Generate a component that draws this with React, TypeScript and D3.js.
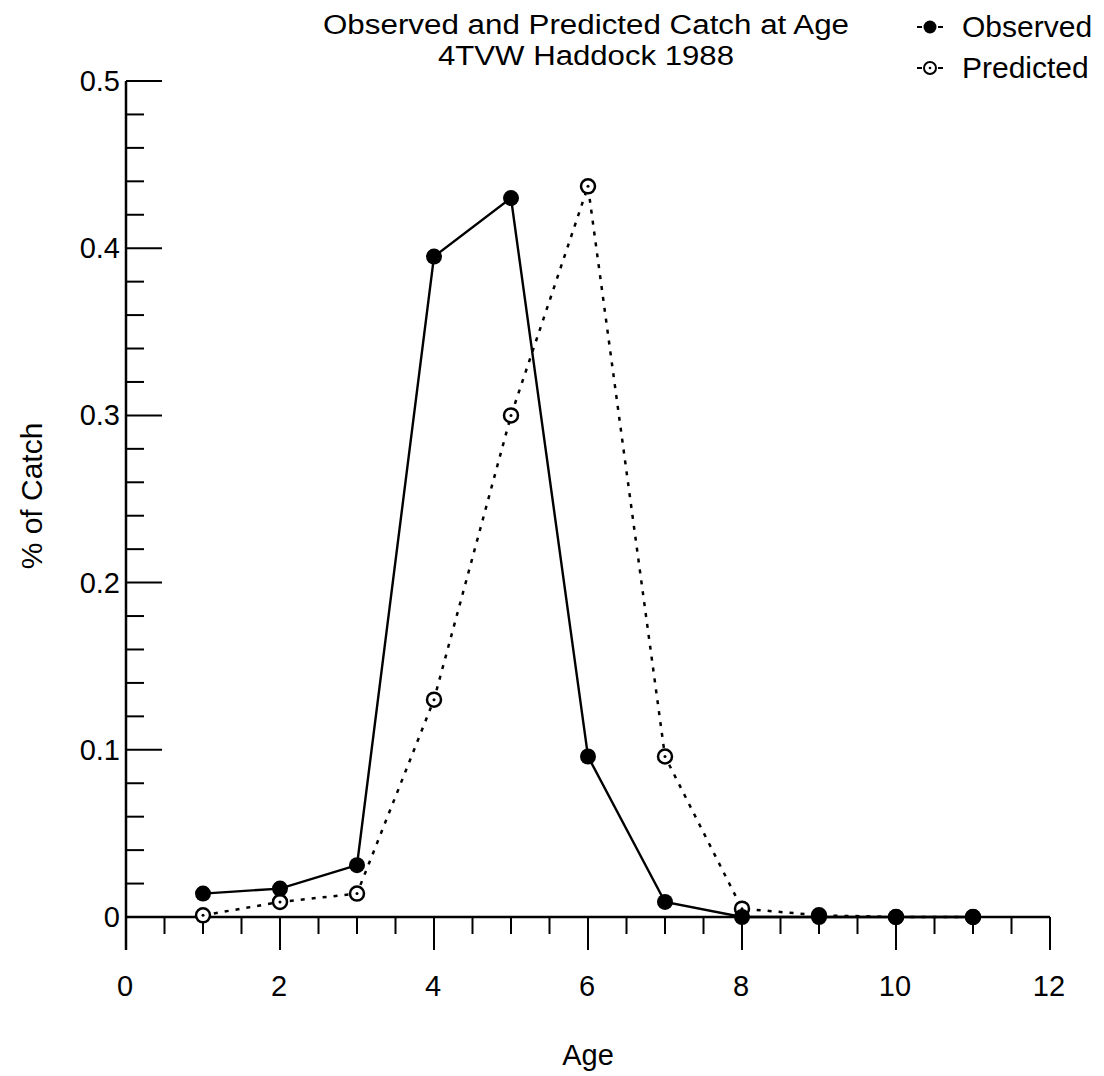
import { useEffect, useRef } from 'react';
import * as d3 from 'd3';

const ages = [1, 2, 3, 4, 5, 6, 7, 8, 9, 10, 11];
const observed = [0.014, 0.017, 0.031, 0.395, 0.43, 0.096, 0.009, 0.0, 0.0, 0.0, 0.0];
const predicted = [0.001, 0.009, 0.014, 0.13, 0.3, 0.437, 0.096, 0.005, 0.001, 0.0, 0.0];
const xTicks = [0, 2, 4, 6, 8, 10, 12];
const yTicks = [0, 0.1, 0.2, 0.3, 0.4, 0.5];
const titleLines = ['Observed and Predicted Catch at Age', '4TVW Haddock 1988'];

const FONT = '"Liberation Sans", Arial, Helvetica, sans-serif';

const App = () => {
  const svgRef = useRef<SVGSVGElement | null>(null);

  useEffect(() => {
    const svg = d3.select(svgRef.current);
    svg.selectAll('*').remove();

    const x = d3.scaleLinear().domain([0, 12]).range([126, 1050]);
    const y = d3.scaleLinear().domain([0, 0.5]).range([917, 81]);

    const g = svg.append('g').attr('font-family', FONT).attr('fill', '#000');

    // y axis (ticks point inward)
    const yMinor = d3.range(0, 0.5001, 0.02);
    g.append('line')
      .attr('x1', x(0)).attr('x2', x(0))
      .attr('y1', y(0.5)).attr('y2', y(0) + 33)
      .attr('stroke', '#000').attr('stroke-width', 2.5);
    g.selectAll('.ytick')
      .data(yMinor)
      .enter()
      .append('line')
      .attr('x1', x(0))
      .attr('x2', d => x(0) + (Math.abs(Math.round(d * 10) - d * 10) < 1e-6 ? 36 : 18))
      .attr('y1', d => y(d)).attr('y2', d => y(d))
      .attr('stroke', '#000').attr('stroke-width', 2);
    g.selectAll('.ylabel')
      .data(yTicks)
      .enter()
      .append('text')
      .attr('x', x(0) - 6)
      .attr('y', d => y(d) + 10)
      .attr('text-anchor', 'end')
      .attr('font-size', 29)
      .text(d => (d === 0 ? '0' : d3.format('.1f')(d)));

    // x axis (ticks point down)
    const xMinor = d3.range(0, 12.001, 0.5);
    g.append('line')
      .attr('x1', x(0)).attr('x2', x(12))
      .attr('y1', y(0)).attr('y2', y(0))
      .attr('stroke', '#000').attr('stroke-width', 2.5);
    g.selectAll('.xtick')
      .data(xMinor)
      .enter()
      .append('line')
      .attr('x1', d => x(d)).attr('x2', d => x(d))
      .attr('y1', y(0))
      .attr('y2', d => y(0) + (d % 2 === 0 ? 33 : 17))
      .attr('stroke', '#000').attr('stroke-width', 2);
    g.selectAll('.xlabel')
      .data(xTicks)
      .enter()
      .append('text')
      .attr('x', d => x(d) - 1)
      .attr('y', 996)
      .attr('text-anchor', 'middle')
      .attr('font-size', 29)
      .text(d => d);

    // axis titles
    g.append('text')
      .attr('x', 588).attr('y', 1065)
      .attr('text-anchor', 'middle')
      .attr('font-size', 29)
      .text('Age');
    g.append('text')
      .attr('transform', 'translate(42,496) rotate(-90)')
      .attr('text-anchor', 'middle')
      .attr('font-size', 30)
      .text('% of Catch');

    // title (two tight lines, stretched to the reference width)
    const titleWidths = [526, 296];
    g.selectAll('.title')
      .data(titleLines)
      .enter()
      .append('text')
      .attr('x', 586)
      .attr('y', (d, i) => 34 + i * 31)
      .attr('text-anchor', 'middle')
      .attr('font-size', 27)
      .attr('textLength', (d, i) => titleWidths[i])
      .attr('lengthAdjust', 'spacingAndGlyphs')
      .text(d => d);

    const line = d3.line<number>()
      .x((d, i) => x(ages[i]))
      .y(d => y(d));

    // predicted (dotted, open circles)
    g.append('path')
      .datum(predicted)
      .attr('fill', 'none')
      .attr('stroke', '#000')
      .attr('stroke-width', 2.5)
      .attr('stroke-dasharray', '4,7')
      .attr('d', line);
    const pred = g.selectAll('.pred')
      .data(predicted)
      .enter()
      .append('g')
      .attr('transform', (d, i) => `translate(${x(ages[i])},${y(d)})`);
    pred.append('circle').attr('r', 7).attr('fill', '#fff').attr('stroke', '#000').attr('stroke-width', 2.5);
    pred.append('circle').attr('r', 1.5).attr('fill', '#000');

    // observed (solid, filled circles)
    g.append('path')
      .datum(observed)
      .attr('fill', 'none')
      .attr('stroke', '#000')
      .attr('stroke-width', 2.4)
      .attr('d', line);
    g.selectAll('.obs')
      .data(observed)
      .enter()
      .append('circle')
      .attr('cx', (d, i) => x(ages[i]))
      .attr('cy', d => y(d))
      .attr('r', 8)
      .attr('fill', '#000');

    // legend
    const legendData = [
      { label: 'Observed', filled: true, cy: 27 },
      { label: 'Predicted', filled: false, cy: 68 },
    ];
    legendData.forEach(item => {
      const row = g.append('g').attr('transform', `translate(930,${item.cy})`);
      row.append('line').attr('x1', -13).attr('x2', -8).attr('stroke', '#000').attr('stroke-width', 2);
      row.append('line').attr('x1', 8).attr('x2', 13).attr('stroke', '#000').attr('stroke-width', 2);
      if (item.filled) {
        row.append('circle').attr('r', 6.5).attr('fill', '#000');
      } else {
        row.append('circle').attr('r', 6).attr('fill', '#fff').attr('stroke', '#000').attr('stroke-width', 2);
        row.append('circle').attr('r', 1.3).attr('fill', '#000');
      }
      row.append('text')
        .attr('x', 32)
        .attr('y', 10)
        .attr('font-size', 30)
        .text(item.label);
    });
  }, []);

  return (
    <div style={{ position: 'absolute', left: 0, top: 0, background: '#fff' }}>
      <svg ref={svgRef} width={1104} height={1076} style={{ display: 'block' }} />
    </div>
  );
};

export default App;
